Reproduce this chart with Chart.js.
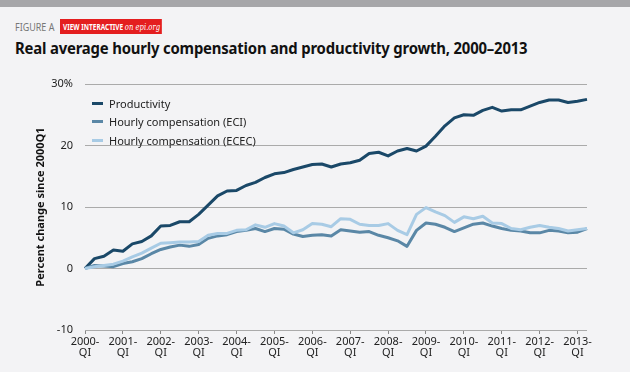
<!DOCTYPE html>
<html>
<head>
<meta charset="utf-8">
<script src="https://cdn.jsdelivr.net/npm/chart.js@4"></script>
<style>
  body { margin: 0; width: 630px; height: 372px; background: #f3f3f5; overflow: hidden; font-family: "Noto Sans", sans-serif; position: relative; }
  #topbar { position: absolute; left: 0; top: 0; width: 630px; height: 7px; background: #a6a6a9; }
  #fig { position: absolute; left: 15px; top: 19px; font-size: 11.5px; color: #777; white-space: nowrap; transform-origin: left top; transform: scaleX(0.78); }
  #badge { position: absolute; left: 60px; top: 19px; height: 15px; line-height: 15px; width: 126px; padding: 0 4px; background: #e41e1f; color: #fff; font-size: 8.5px; font-weight: bold; white-space: nowrap; transform-origin: left top; transform: scaleX(0.76); }
  #badge i { font-family: "DejaVu Serif", serif; font-weight: normal; font-size: 9px; }
  #title { position: absolute; left: 15px; top: 37px; font-size: 16px; font-weight: bold; color: #111; white-space: nowrap; transform-origin: left top; transform: scaleX(0.93); letter-spacing: -0.2px; }
  #wrap { position: absolute; left: 0; top: 60px; width: 630px; height: 312px; }
  #legend { position: absolute; left: 92px; top: 94px; font-size: 11px; color: #222; }
  #legend div { height: 18.5px; display: flex; align-items: center; }
  #legend span.sw { display: inline-block; width: 11px; height: 3px; margin-right: 6px; }
</style>
</head>
<body>
<div id="topbar"></div>
<div id="fig">FIGURE A</div>
<div id="badge">VIEW INTERACTIVE <i>on epi.org</i></div>
<div id="title">Real average hourly compensation and productivity growth, 2000–2013</div>
<div id="wrap"><canvas id="chart" width="630" height="312"></canvas></div>
<div id="legend"></div>
<script>
const years = [2000, 2001, 2002, 2003, 2004, 2005, 2006, 2007, 2008, 2009, 2010, 2011, 2012, 2013];
const quarters = ['QI', 'QII', 'QIII', 'QIV'];

const productivity = [
  0, 1.6, 2.0, 3.0,
  2.8, 4.0, 4.4, 5.3,
  6.9, 7.0, 7.6, 7.6,
  8.8, 10.3, 11.8, 12.6,
  12.7, 13.5, 14.0, 14.8,
  15.4, 15.6, 16.1, 16.5,
  16.9, 17.0, 16.5, 17.0,
  17.2, 17.6, 18.7, 18.9,
  18.3, 19.1, 19.5, 19.1,
  19.9, 21.5, 23.2, 24.5,
  25.0, 24.9, 25.7, 26.2,
  25.6, 25.8, 25.8, 26.4,
  27.0, 27.4, 27.4, 27.0,
  27.2, 27.5
];
const compECI = [
  0, 0.5, 0.4, 0.3,
  0.8, 1.1, 1.6, 2.4,
  3.1, 3.5, 3.8, 3.6,
  3.9, 4.9, 5.3, 5.5,
  6.0, 6.2, 6.5, 6.0,
  6.5, 6.4, 5.6, 5.2,
  5.4, 5.5, 5.3, 6.3,
  6.1, 5.9, 6.0, 5.4,
  5.0, 4.5, 3.6, 6.2,
  7.4, 7.2, 6.7, 6.0,
  6.6, 7.2, 7.4, 6.9,
  6.5, 6.2, 6.1, 5.8,
  5.8, 6.2, 6.1, 5.8,
  5.9, 6.5
];
const compECEC = [
  0, 0.3, 0.5, 0.7,
  1.2, 1.9, 2.5, 3.3,
  4.1, 4.2, 4.3, 4.3,
  4.4, 5.4, 5.7, 5.7,
  6.2, 6.3, 7.1, 6.7,
  7.3, 6.9, 5.8, 6.3,
  7.3, 7.2, 6.8, 8.1,
  8.0, 7.2, 7.0, 7.0,
  7.3, 6.2, 5.5, 8.8,
  9.9, 9.2, 8.6, 7.5,
  8.4, 8.1, 8.5, 7.4,
  7.3, 6.5, 6.3, 6.7,
  7.0, 6.7, 6.5, 6.1,
  6.3, 6.5
];
const yTicks = [-10, 0, 10, 20, 30];

const labels = [];
years.forEach(y => quarters.forEach(q => labels.push(y + q)));
labels.length = productivity.length;

const series = [
  { label: 'Productivity', data: productivity, color: '#1a4868', width: 3 },
  { label: 'Hourly compensation (ECI)', data: compECI, color: '#5a87a6', width: 3 },
  { label: 'Hourly compensation (ECEC)', data: compECEC, color: '#a8cbe5', width: 3 }
];

const legendEl = document.getElementById('legend');
series.forEach(s => {
  const row = document.createElement('div');
  row.innerHTML = '<span class="sw" style="background:' + s.color + '"></span>' + s.label;
  legendEl.appendChild(row);
});

const font = { family: '"Noto Sans", sans-serif', size: 11 };

new Chart(document.getElementById('chart').getContext('2d'), {
  type: 'line',
  data: {
    labels: labels,
    datasets: series.slice().reverse().map(s => ({
      label: s.label,
      data: s.data,
      borderColor: s.color,
      borderWidth: s.width,
      pointRadius: 0,
      fill: false,
      tension: 0,
      borderJoinStyle: 'round'
    }))
  },
  options: {
    responsive: false,
    animation: false,
    layout: { padding: { left: 30, right: 43, top: 24, bottom: 0 } },
    plugins: { legend: { display: false }, tooltip: { enabled: false } },
    scales: {
      x: {
        type: 'category',
        offset: false,
        afterFit: s => { s.height = 42; },
        border: { display: false },
        grid: {
          drawOnChartArea: false,
          tickLength: 4,
          color: c => (c.index % 4 === 0 ? '#888' : 'transparent')
        },
        ticks: {
          autoSkip: false,
          maxRotation: 0,
          padding: 2,
          color: '#222',
          font: { family: font.family, size: 11, lineHeight: 1.0 },
          callback: function (v, i) {
            return i % 4 === 0 ? [labels[i].slice(0, 4) + '-', 'QI'] : '';
          }
        }
      },
      y: {
        min: -10,
        max: 30,
        afterFit: s => { s.width = 55; },
        afterBuildTicks: s => { s.ticks = yTicks.map(v => ({ value: v })); },
        border: { display: false },
        grid: { color: '#aaa', lineWidth: 1, drawTicks: false, borderDash: [1, 2] },
        ticks: {
          padding: 12,
          color: '#222',
          font: font,
          callback: v => (v === 30 ? '30%' : v)
        },
        title: {
          display: true,
          text: 'Percent change since 2000Q1',
          color: '#111',
          font: { family: font.family, size: 11, weight: 'bold' },
          padding: { top: 4, bottom: 0 }
        }
      }
    }
  }
});
</script>
</body>
</html>
